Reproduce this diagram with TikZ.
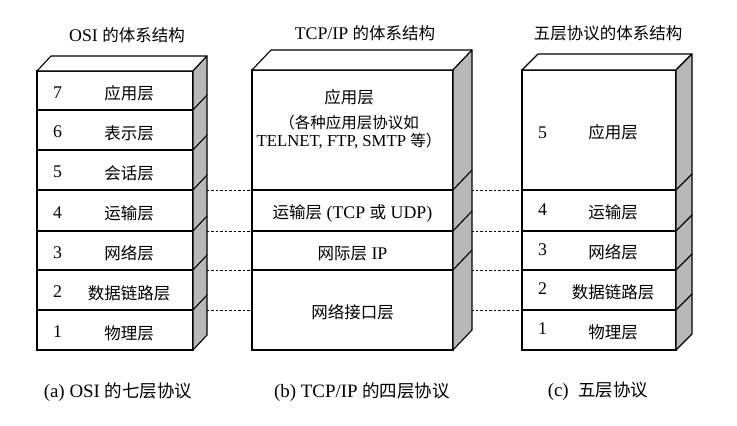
\documentclass[tikz,border=0pt]{standalone}
\usepackage{fontspec}
\setmainfont{Liberation Serif}[Scale=1.08]
\newfontfamily\cjk{Noto Sans CJK SC}
\newcommand{\zh}[1]{{\cjk #1}}
\usetikzlibrary{positioning}

\tikzset{
  layer/.style={draw, line width=1.1pt, fill=white, inner sep=0pt, outer sep=0pt},
  osilayer/.style={layer, minimum width=156pt},
  tcplayer/.style={layer, minimum width=201pt},
  fivelayer/.style={layer, minimum width=154pt},
  face/.style={draw, line width=1.1pt, line join=round},
  side/.style={face, fill=black!28},
  link/.style={dash pattern=on 2.5pt off 2pt, line width=0.6pt},
  num/.style={inner sep=0pt},
  caption/.style={font=\fontsize{17.5}{20}\selectfont},
}

\begin{document}
\begin{tikzpicture}[x=1pt, y=-1pt, font=\fontsize{16.5}{18.5}\selectfont]
  \useasboundingbox (0,0) rectangle (737,426);

  % OSI stack
  \node[osilayer, minimum height=39pt, anchor=north west] (osi7) at (37,71) {};
  \node[osilayer, minimum height=40pt, below=0pt of osi7] (osi6) {};
  \node[osilayer, minimum height=40pt, below=0pt of osi6] (osi5) {};
  \node[osilayer, minimum height=41pt, below=0pt of osi5] (osi4) {};
  \node[osilayer, minimum height=39pt, below=0pt of osi4] (osi3) {};
  \node[osilayer, minimum height=40pt, below=0pt of osi3] (osi2) {};
  \node[osilayer, minimum height=40pt, below=0pt of osi2] (osi1) {};

  % TCP/IP stack
  \node[tcplayer, minimum height=120pt, anchor=north west] (tcpapp) at (252,70) {};
  \node[tcplayer, minimum height=41pt, below=0pt of tcpapp] (tcptrans) {};
  \node[tcplayer, minimum height=39pt, below=0pt of tcptrans] (tcpinet) {};
  \node[tcplayer, minimum height=80pt, below=0pt of tcpinet] (tcpnet) {};

  % five layer stack
  \node[fivelayer, minimum height=120pt, anchor=north west] (five5) at (522,70) {};
  \node[fivelayer, minimum height=41pt, below=0pt of five5] (five4) {};
  \node[fivelayer, minimum height=39pt, below=0pt of five4] (five3) {};
  \node[fivelayer, minimum height=40pt, below=0pt of five3] (five2) {};
  \node[fivelayer, minimum height=40pt, below=0pt of five2] (five1) {};

  % dashed links between matching layers
  \draw[link] (osi4.north east) -- (tcptrans.north west);
  \draw[link] (osi3.north east) -- (tcpinet.north west);
  \draw[link] (osi2.north east) -- (tcpnet.north west);
  \draw[link] (osi1.north east) -- (tcpnet.west);
  \draw[link] (tcptrans.north east) -- (five4.north west);
  \draw[link] (tcpinet.north east) -- (five3.north west);
  \draw[link] (tcpnet.north east) -- (five2.north west);
  \draw[link] (tcpnet.east) -- (five1.north west);

  % top and side faces
  \draw[face, fill=white] (osi7.north west) -- ++(14,-15) -- ++(156,0) -- (osi7.north east) -- cycle;
  \draw[side] (osi7.north east) -- ++(14,-15) -- ++(0,279) -- (osi1.south east) -- cycle;
  \draw[face] (osi6.north east) -- ++(14,-15);
  \draw[face] (osi5.north east) -- ++(14,-15);
  \draw[face] (osi4.north east) -- ++(14,-15);
  \draw[face] (osi3.north east) -- ++(14,-15);
  \draw[face] (osi2.north east) -- ++(14,-15);
  \draw[face] (osi1.north east) -- ++(14,-15);

  \draw[face, fill=white] (tcpapp.north west) -- ++(19,-20) -- ++(201,0) -- (tcpapp.north east) -- cycle;
  \draw[side] (tcpapp.north east) -- ++(19,-20) -- ++(0,280) -- (tcpnet.south east) -- cycle;
  \draw[face] (tcptrans.north east) -- ++(19,-20);
  \draw[face] (tcpinet.north east) -- ++(19,-20);
  \draw[face] (tcpnet.north east) -- ++(19,-20);

  \draw[face, fill=white] (five5.north west) -- ++(16,-16) -- ++(154,0) -- (five5.north east) -- cycle;
  \draw[side] (five5.north east) -- ++(16,-16) -- ++(0,280) -- (five1.south east) -- cycle;
  \draw[face] (five4.north east) -- ++(16,-16);
  \draw[face] (five3.north east) -- ++(16,-16);
  \draw[face] (five2.north east) -- ++(16,-16);
  \draw[face] (five1.north east) -- ++(16,-16);

  % OSI texts
  \node[num, right=16pt of osi7.west, yshift=-2pt] {7};
  \node[num, right=16pt of osi6.west, yshift=-2pt] {6};
  \node[num, right=16pt of osi5.west, yshift=-2pt] {5};
  \node[num, right=16pt of osi4.west, yshift=-2pt] {4};
  \node[num, right=16pt of osi3.west, yshift=-2pt] {3};
  \node[num, right=16pt of osi2.west, yshift=-2pt] {2};
  \node[num, right=16pt of osi1.west, yshift=-2pt] {1};
  \node at ([xshift=14pt, yshift=-3pt]osi7.center) {\zh{应用层}};
  \node at ([xshift=14pt, yshift=-3pt]osi6.center) {\zh{表示层}};
  \node at ([xshift=14pt, yshift=-3pt]osi5.center) {\zh{会话层}};
  \node at ([xshift=14pt, yshift=-3pt]osi4.center) {\zh{运输层}};
  \node at ([xshift=14pt, yshift=-3pt]osi3.center) {\zh{网络层}};
  \node at ([xshift=14pt, yshift=-3pt]osi2.center) {\zh{数据链路层}};
  \node at ([xshift=14pt, yshift=-3pt]osi1.center) {\zh{物理层}};

  % TCP/IP texts
  \node (appname) at (349,97) {\zh{应用层}};
  \node[align=center, below=3pt of appname, font=\fontsize{15.5}{18}\selectfont] {\zh{（各种应用层协议如}\\TELNET, FTP, SMTP \zh{等）}};
  \node at ([yshift=-3pt]tcptrans.center) {\zh{运输层} (TCP \zh{或} UDP)};
  \node at ([yshift=-3pt]tcpinet.center) {\zh{网际层} IP};
  \node at ([yshift=-2pt]tcpnet.center) {\zh{网络接口层}};

  % five layer texts
  \node[num, right=16pt of five5.west, yshift=-3pt] {5};
  \node[num, right=16pt of five4.west, yshift=1pt] {4};
  \node[num, right=16pt of five3.west, yshift=1pt] {3};
  \node[num, right=16pt of five2.west, yshift=1pt] {2};
  \node[num, right=16pt of five1.west, yshift=1pt] {1};
  \node at ([xshift=14pt, yshift=-2pt]five5.center) {\zh{应用层}};
  \node at ([xshift=14pt, yshift=-2pt]five4.center) {\zh{运输层}};
  \node at ([xshift=14pt, yshift=-2pt]five3.center) {\zh{网络层}};
  \node at ([xshift=14pt, yshift=-2pt]five2.center) {\zh{数据链路层}};
  \node at ([xshift=14pt, yshift=-2pt]five1.center) {\zh{物理层}};

  % titles and captions
  \node at (127,35) {OSI \zh{的体系结构}};
  \node at (365,33) {TCP/IP \zh{的体系结构}};
  \node at (608,33) {\zh{五层协议的体系结构}};
  \node[caption] at (118,392) {(a) OSI \zh{的七层协议}};
  \node[caption] at (362,392) {(b) TCP/IP \zh{的四层协议}};
  \node[caption] at (598,391) {(c)\ \ \zh{五层协议}};
\end{tikzpicture}
\end{document}
